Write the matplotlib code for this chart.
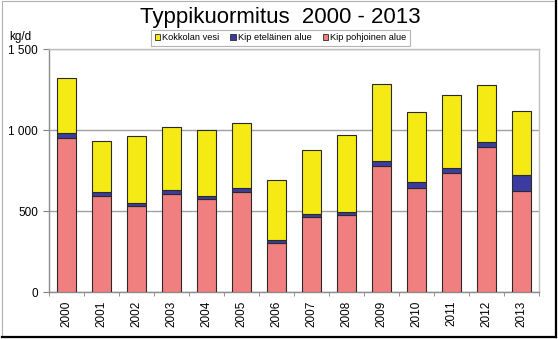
import matplotlib
matplotlib.use("Agg")
import matplotlib.pyplot as plt
from matplotlib.patches import Patch, Rectangle
from matplotlib.lines import Line2D
import numpy as np

plt.rcParams['font.family'] = ['Liberation Sans', 'DejaVu Sans']

years = ['2000', '2001', '2002', '2003', '2004', '2005', '2006',
         '2007', '2008', '2009', '2010', '2011', '2012', '2013']
kip_pohjoinen = [950, 594, 530, 606, 573, 619, 301, 462, 474, 781, 645, 736, 895, 625]
kip_etelainen = [34, 22, 21, 25, 23, 24, 23, 23, 19, 31, 38, 33, 33, 97]
kokkolan_vesi = [338, 318, 414, 388, 404, 403, 367, 394, 474, 473, 431, 450, 351, 394]

col_pink = '#f08080'
col_blue = '#3c3ca0'
col_yellow = '#f5ea14'
edge = '#2a2a2a'

fig = plt.figure(figsize=(5.58, 3.39), dpi=100)
ax = fig.add_axes([49 / 558, 1 - 292.3 / 339, (538.7 - 49) / 558, (292.3 - 49) / 339])

x = np.arange(len(years))
p = np.array(kip_pohjoinen)
e = np.array(kip_etelainen)
k = np.array(kokkolan_vesi)
w = 0.55
ax.bar(x, p, w, color=col_pink, edgecolor=edge, linewidth=0.8, zorder=3)
ax.bar(x, e, w, bottom=p, color=col_blue, edgecolor=edge, linewidth=0.8, zorder=3)
ax.bar(x, k, w, bottom=p + e, color=col_yellow, edgecolor=edge, linewidth=0.8, zorder=3)

ax.set_xlim(-0.5, len(years) - 0.5)
ax.set_ylim(0, 1500)
ax.set_yticks([0, 500, 1000, 1500])
ax.set_yticklabels(['0', '500', '1 000', '1 500'], fontsize=8.5)
ax.yaxis.grid(True, color='#a0a0a0', linewidth=1, zorder=0)
ax.set_axisbelow(True)

ax.set_xticks(x)
ax.set_xticklabels(years, rotation=90, fontsize=8.5)
ax.tick_params(axis='x', length=0, pad=6)
ax.set_xticks(np.arange(-0.5, len(years), 1), minor=True)
ax.tick_params(axis='x', which='minor', length=3, color='#808080', direction='out')
ax.tick_params(axis='y', length=4, color='#808080', direction='out', pad=4)

for s in ['left', 'bottom']:
    ax.spines[s].set_color('#8c8c8c')
    ax.spines[s].set_linewidth(1)
for s in ['top', 'right']:
    ax.spines[s].set_color('#c0c0c0')
    ax.spines[s].set_linewidth(1)

fig.text(20 / 558, 1 - 37 / 339, 'kg/d', fontsize=8.5, ha='center', va='center')
fig.text(280 / 558, 1 - 17 / 339, 'Typpikuormitus  2000 - 2013', fontsize=16,
         ha='center', va='center')

handles = [Patch(facecolor=col_yellow, edgecolor=edge, linewidth=0.6),
           Patch(facecolor=col_blue, edgecolor=edge, linewidth=0.6),
           Patch(facecolor=col_pink, edgecolor=edge, linewidth=0.6)]
leg = fig.legend(handles, ['Kokkolan vesi', 'Kip eteläinen alue', 'Kip pohjoinen alue'],
                 loc='center', bbox_to_anchor=(280.5 / 558, 1 - 38 / 339), ncol=3,
                 fontsize=6.7, frameon=True, fancybox=False, handlelength=0.6,
                 handleheight=0.6, handletextpad=0.2, columnspacing=1.2,
                 borderpad=0.35, edgecolor='#a0a0a0')
leg.get_frame().set_linewidth(0.8)

# outer frame with a dark shadow on the right and bottom
fig.add_artist(Rectangle((0.003, 0.006), 0.992, 0.99, transform=fig.transFigure,
                         fill=False, edgecolor='#b0b0b0', linewidth=0.8))
fig.add_artist(Line2D([0.996, 0.996], [0.006, 0.996], transform=fig.transFigure,
                      color='black', linewidth=1.6))
fig.add_artist(Line2D([0.003, 0.996], [0.006, 0.006], transform=fig.transFigure,
                      color='black', linewidth=1.6))

fig.savefig('out.png', dpi=100)
